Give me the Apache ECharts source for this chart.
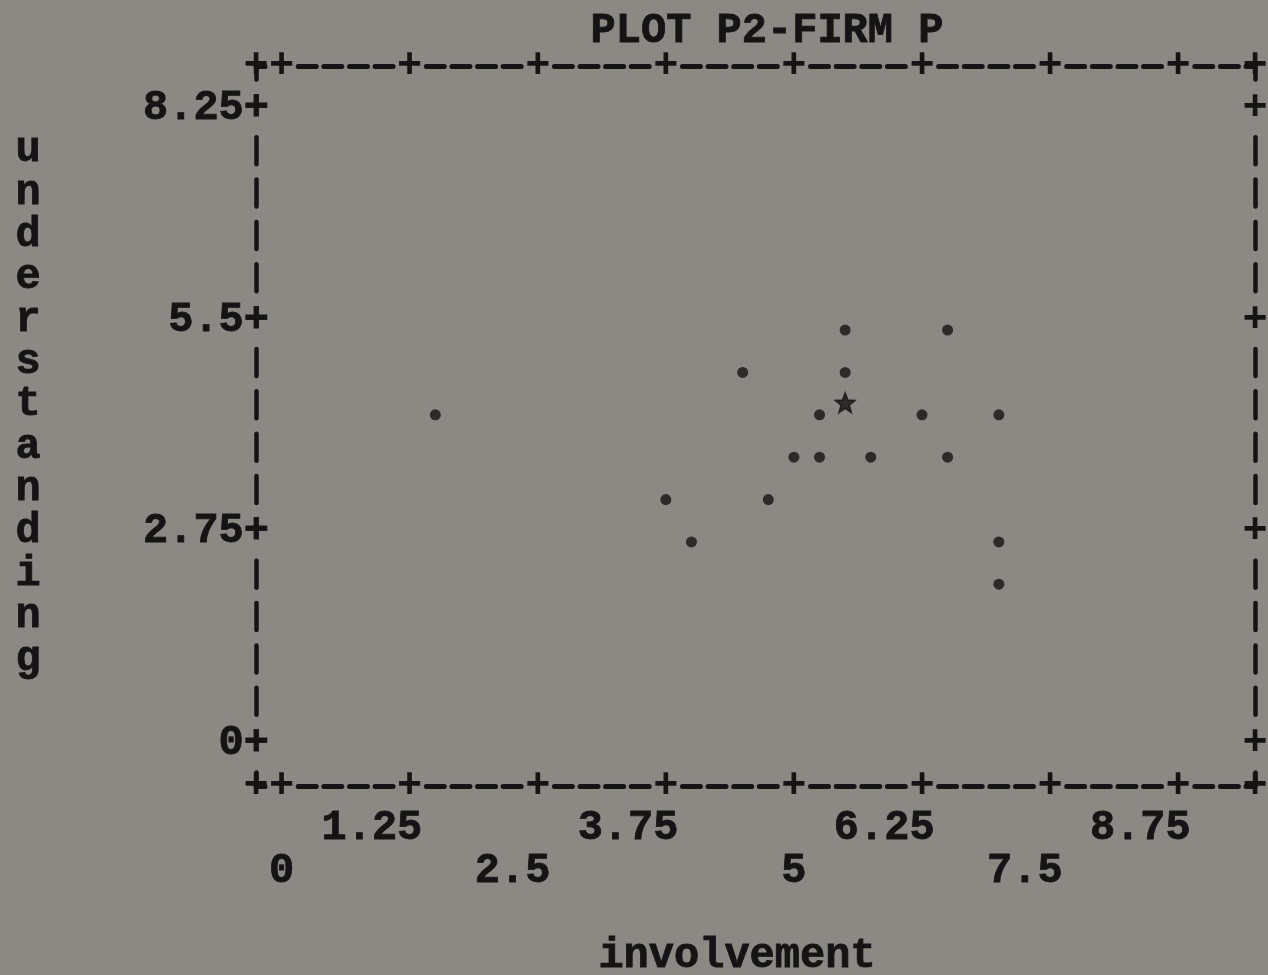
<!DOCTYPE html>
<html lang="en">
<head>
<meta charset="UTF-8">
<title>PLOT P2-FIRM P</title>
<script src="https://cdn.jsdelivr.net/npm/echarts@6.0.0/dist/echarts.min.js"></script>
<style>
    html, body { margin: 0; padding: 0; background: #8c8984; }
    #chart { width: 1268px; height: 975px; }
</style>
</head>
<body>
<div id="chart"></div>
<script>
    // plotted observations ('.' symbol), x = involvement, y = understanding
    const involvement   = [1.5, 3.75, 4.0, 4.5, 4.75, 5.0, 5.25, 5.25, 5.5, 5.5, 5.75, 6.25, 6.5, 6.5, 7.0, 7.0, 7.0];
    const understanding = [4.4, 3.3, 2.75, 4.95, 3.3, 3.85, 3.85, 4.4, 5.5, 4.95, 3.85, 4.4, 5.5, 3.85, 4.4, 2.75, 2.2];
    // the single '*' mark
    const starX = [5.5];
    const starY = [4.4];

    const xTicks = [0, 1.25, 2.5, 3.75, 5, 6.25, 7.5, 8.75];
    const xLabelsUpper = [1.25, 3.75, 6.25, 8.75];
    const xLabelsLower = [0, 2.5, 5, 7.5];
    const yTicks = [0, 2.75, 5.5, 8.25];
    const xRange = [-0.25, 9.5];
    const yRange = [-0.55, 8.8];

    const FONT = "'Liberation Mono', 'DejaVu Sans Mono', monospace";
    const INK = '#141414';
    const CELL = 999 / 39;   // width of one printed column
    const ROW = 720 / 17;    // height of one printed line

    // "----" between the '+' marks, "||||" between the '+' marks
    const hDash = [18, CELL - 18, 18, CELL - 18, 18, CELL - 18, 18, 2 * CELL - 18];
    const hOffset = 3 * CELL + 9;
    const vDash = [27, ROW - 27, 27, ROW - 27, 27, ROW - 27, 27, 2 * ROW - 27];
    const vOffset = 3 * ROW + 13.5;

    const xFrame = [xRange[0]].concat(xTicks, [xRange[1]]);

    function txt(extra) {
        return Object.assign({
            fontFamily: FONT,
            fontWeight: 'bold',
            fontSize: 42,
            color: INK,
            textBorderColor: INK,
            textBorderWidth: 0.8
        }, extra || {});
    }

    // the '+' marks printed on the frame
    function cross(values) {
        return {
            customValues: values,
            margin: 0,
            showMinLabel: true,
            showMaxLabel: true,
            hideOverlap: false,
            fontFamily: FONT,
            fontWeight: 'bold',
            fontSize: 42,
            color: INK,
            align: 'center',
            verticalAlign: 'middle',
            formatter: function () { return '+'; }
        };
    }

    function padRight(v) {
        const s = String(v);
        return s + ' '.repeat(s.length - 1);
    }

    const chart = echarts.init(document.getElementById('chart'));

    const hLine = { show: true, onZero: false, lineStyle: { color: INK, width: 5, type: hDash, dashOffset: hOffset } };
    const vLine = { show: true, onZero: false, lineStyle: { color: INK, width: 4.5, type: vDash, dashOffset: vOffset } };

    chart.setOption({
        backgroundColor: '#8c8984',
        animation: false,
        title: {
            text: 'PLOT P2-FIRM P',
            left: 762,
            top: 5,
            textAlign: 'center',
            textStyle: txt()
        },
        grid: { left: 256, top: 66, width: 999, height: 720, outerBoundsMode: 'none' },
        xAxis: [
            {
                type: 'value', position: 'bottom', min: xRange[0], max: xRange[1],
                axisLine: hLine,
                axisTick: { show: false },
                splitLine: { show: false },
                axisLabel: cross(xFrame),
                name: 'involvement',
                nameLocation: 'middle',
                nameGap: 170,
                nameTextStyle: txt({ verticalAlign: 'middle', align: 'center', padding: [0, 37, 0, 0] })
            },
            {
                type: 'value', position: 'top', min: xRange[0], max: xRange[1],
                axisLine: hLine,
                axisTick: { show: false },
                splitLine: { show: false },
                axisLabel: cross(xFrame)
            },
            {
                type: 'value', position: 'bottom', min: xRange[0], max: xRange[1],
                axisLine: { show: false, onZero: false },
                axisTick: { show: false },
                splitLine: { show: false },
                axisLabel: Object.assign(txt({ verticalAlign: 'middle', align: 'center' }), {
                    customValues: xLabelsUpper, margin: ROW, formatter: padRight
                })
            },
            {
                type: 'value', position: 'bottom', min: xRange[0], max: xRange[1],
                axisLine: { show: false, onZero: false },
                axisTick: { show: false },
                splitLine: { show: false },
                axisLabel: Object.assign(txt({ verticalAlign: 'middle', align: 'center' }), {
                    customValues: xLabelsLower, margin: 2 * ROW + 1, formatter: padRight
                })
            }
        ],
        yAxis: [
            {
                type: 'value', position: 'left', min: yRange[0], max: yRange[1],
                axisLine: vLine,
                axisTick: { show: false },
                splitLine: { show: false },
                axisLabel: Object.assign(txt({ verticalAlign: 'middle', align: 'right' }), {
                    customValues: yTicks, margin: -13, formatter: function (v) { return v + '+'; }
                }),
                // printed one letter per line; the blank last line lifts it half a line
                name: 'understanding'.split('').join('\n') + '\n ',
                nameLocation: 'middle',
                nameRotate: 0,
                nameGap: 228,
                nameTextStyle: txt({ align: 'center', verticalAlign: 'middle', lineHeight: ROW })
            },
            {
                type: 'value', position: 'right', min: yRange[0], max: yRange[1],
                axisLine: vLine,
                axisTick: { show: false },
                splitLine: { show: false },
                axisLabel: cross(yTicks)
            }
        ],
        series: [
            {
                type: 'scatter',
                xAxisIndex: 0,
                yAxisIndex: 0,
                data: involvement.map(function (x, i) { return [x, understanding[i]]; }),
                symbol: 'circle',
                symbolSize: 11,
                symbolOffset: [0, 10],
                itemStyle: { color: INK },
                silent: true
            },
            {
                type: 'scatter',
                xAxisIndex: 0,
                yAxisIndex: 0,
                data: starX.map(function (x, i) { return [x, starY[i]]; }),
                symbol: 'path://M50,0 L63,33 L98,35 L70,57 L80,92 L50,72 L20,92 L30,57 L2,35 L37,33 Z',
                symbolSize: 20,
                symbolOffset: [0, -2],
                itemStyle: { color: INK, borderColor: INK, borderWidth: 1.5 },
                silent: true
            }
        ]
    });
</script>
</body>
</html>
